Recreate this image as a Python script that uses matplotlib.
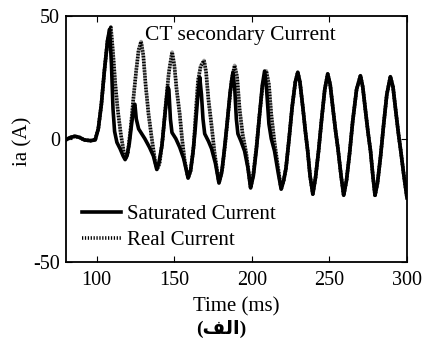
import matplotlib
matplotlib.use("Agg")
import matplotlib.pyplot as plt

# ---------------- data ----------------
t_pre = [80, 83, 86, 89, 92, 96, 99, 101, 103, 105, 107]
i_pre = [-0.5, 0.5, 1.0, 0.5, -0.5, -0.8, -0.5, 4, 14, 28, 40]

t_sat_mid = [108.3, 109.5, 110.5, 111.5, 113, 115, 117, 118.3, 119.5, 121, 122.5, 124, 124.6,
             125.5, 127, 129, 131, 134, 136.5, 138.7, 140, 142, 144, 145.8, 146.5, 147.5, 148.5,
             151, 153.5, 156, 158.9, 160.5, 162, 163.5, 165, 166.4, 167.5, 168.5, 169.6, 172,
             174, 176.5, 178.8, 180.5, 182, 184, 186, 187.8, 189, 190, 191, 193, 195.3, 197.5,
             199.2, 201, 203, 205, 206.8, 208.2, 209.5, 211, 212.5, 214.6, 217]
i_sat_mid = [44.5, 30, 12, 3, -1.5, -4, -7, -8.5, -7, -2, 6, 13.5, 14,
             8, 4, 2, 0, -3.5, -7, -12.5, -10, -3, 10, 21, 20, 8, 2.5,
             0, -3.5, -8, -16, -13, -6, 4, 16, 25, 18, 8, 2, -1,
             -4, -10, -18, -14, -6, 6, 19, 27, 20, 8, 2, -1, -5, -12,
             -20, -15, -4, 10, 22, 27.5, 20, 6, 0, -5, -14]

t_real_mid = [109.1, 110.5, 112, 113.5, 115.5, 117.3, 118.5, 120, 122, 123.7, 125.5, 127, 128.6,
              130, 131.5, 133.4, 135.5, 137.6, 138.9, 140.5, 142.5, 144.5, 146.5, 148.6, 150,
              151.5, 153.5, 155, 156.7, 158.9, 160.5, 162.5, 164, 165.3, 167, 169.2, 170.5, 172,
              173.9, 176, 178.8, 181, 183, 185, 187, 188.9, 190.5, 192.1, 194, 196.4, 199.2,
              201, 203, 205, 207, 209.3, 211, 212.5, 214.5, 216.5]
i_real_mid = [45.3, 35, 22, 12, 2, -5, -8, -6, 5, 16.8, 28, 36, 39.5,
              34, 22, 10, 0, -9, -12.5, -10, 0, 14, 27, 35.2, 30,
              20, 10, 0, -9, -16, -13, -3, 12, 23.6, 29.5, 31.8, 27, 16,
              6, -6, -18, -12, -1, 12, 24, 29.8, 25, 12, 2, -6, -20,
              -14, -3, 10, 22, 27.6, 22, 10, -1, -10]

t_tail = [218.9, 220.5, 222, 224, 226, 228, 229.6, 231, 233, 234.5, 236, 237.5, 239.3, 241, 243,
          245, 247, 248.9, 250.5, 252.5, 254, 255.5, 257.5, 259.2, 261, 263, 265, 267.5, 270,
          271.5, 273.5, 275, 276.5, 278, 279.4, 281, 283, 285, 287, 289.3, 291, 293, 294.5,
          296, 298, 300]
i_tail = [-20.5, -17, -12, 0, 13, 23, 27, 23, 12, 3, -5, -15, -22.5, -16, -5,
          8, 20, 26.3, 22, 11, 3, -4, -15, -23, -17, -6, 7, 20, 25.6,
          21, 10, 2, -5, -15, -23, -18, -7, 6, 18, 25.2, 21, 10, 2,
          -5, -15, -24]

t_sat = t_pre + t_sat_mid + t_tail
i_sat = i_pre + i_sat_mid + i_tail
t_real = t_pre + t_real_mid + t_tail
i_real = i_pre + i_real_mid + i_tail

x_ticks = [100, 150, 200, 250, 300]
y_ticks = [-50, 0, 50]

# ---------------- figure ----------------
plt.rcParams['font.family'] = ['Liberation Serif', 'DejaVu Sans']
plt.rcParams['axes.unicode_minus'] = False
fig = plt.figure(figsize=(4.25, 3.38), dpi=100)
ax = fig.add_axes([0.1546, 0.2257, 0.8030, 0.7279])

# real current: grey line with dense black dashes
ax.plot(t_real, i_real, color='#9a9a9a', lw=2.6, solid_joinstyle='round', zorder=2)
real_line, = ax.plot(t_real, i_real, color='black', lw=2.6, linestyle=(0, (0.35, 0.45)),
                     dash_capstyle='butt', zorder=2.1)
sat_line, = ax.plot(t_sat, i_sat, color='black', lw=2.6, solid_joinstyle='round', zorder=3)

ax.set_xlim(80, 300)
ax.set_ylim(-50, 50)
ax.set_xticks(x_ticks)
ax.set_yticks(y_ticks)
ax.tick_params(direction='in', top=True, right=True, length=4, width=0.8,
               labelsize=14.5)
ax.tick_params(axis='x', pad=7)
ax.tick_params(axis='y', pad=4)
for s in ax.spines.values():
    s.set_linewidth(1.3)

ax.text(0.232, 0.92, 'CT secondary Current', transform=ax.transAxes,
        ha='left', va='center', fontsize=15.5)

leg = ax.legend([sat_line, real_line], ['Saturated Current', 'Real Current'],
                loc='lower left', bbox_to_anchor=(0.035, 0.03), frameon=False,
                fontsize=15, handlelength=1.9, handletextpad=0.25, labelspacing=0.3,
                borderaxespad=0.0, borderpad=0.2)

ax.set_xlabel('Time (ms)', fontsize=15, labelpad=5)
ax.set_ylabel('ia (A)', fontsize=15)
ax.yaxis.set_label_coords(-0.096, 0.49)

fig.text(221 / 425, 1 - 329 / 338, '(\uFED2\uFEDF\uFE8D)', ha='center', va='center',
         fontsize=14, fontweight='bold', family=['Liberation Serif', 'DejaVu Sans'])

fig.savefig('out.png', dpi=100)
